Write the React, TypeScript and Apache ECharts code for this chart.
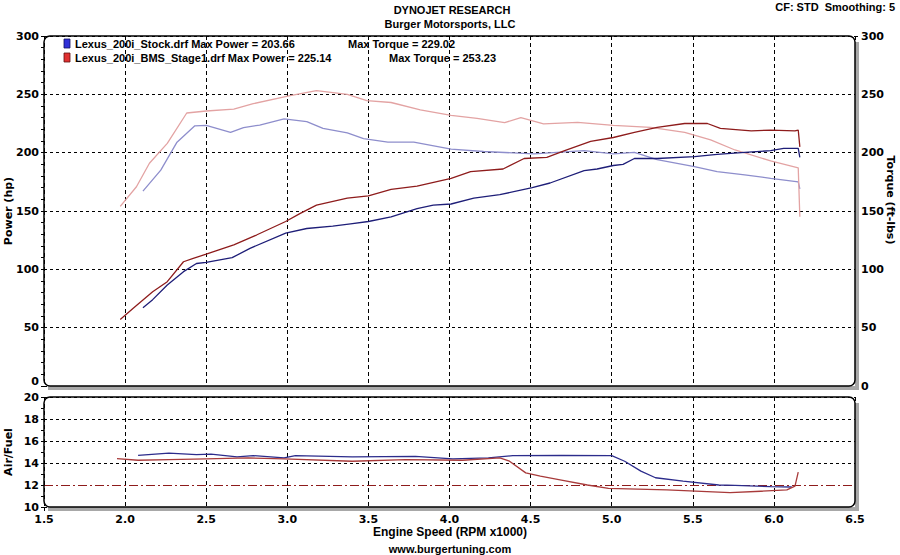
import React, { useEffect, useRef } from "react";
import * as echarts from "echarts";

// ---- Data ----
const stockPowerRpm = [2.11, 2.17, 2.26, 2.36, 2.44, 2.5, 2.66, 2.77, 2.99, 3.12, 3.28, 3.39, 3.5, 3.64, 3.8, 3.9, 4.01, 4.15, 4.31, 4.51, 4.62, 4.83, 4.91, 5.01, 5.07, 5.14, 5.28, 5.51, 5.65, 5.82, 5.98, 6.06, 6.15, 6.16];
const stockPowerHp = [67, 74, 86.6, 98, 105, 106, 110, 118, 131, 135, 137, 139, 141, 145, 152, 155, 156, 161, 164, 170, 174, 184.6, 186, 189, 190, 195, 195, 196.6, 198.6, 200.3, 201.7, 203.7, 203.7, 196];

const stagePowerRpm = [1.97, 2.05, 2.11, 2.17, 2.26, 2.36, 2.42, 2.5, 2.67, 2.81, 2.99, 3.08, 3.18, 3.37, 3.5, 3.64, 3.8, 4.01, 4.13, 4.33, 4.46, 4.6, 4.71, 4.87, 5.01, 5.14, 5.28, 5.45, 5.59, 5.67, 5.86, 5.98, 6.13, 6.15, 6.16];
const stagePowerHp = [57, 66.6, 73.7, 80.8, 89.4, 106.5, 109.4, 113, 121, 129.4, 141, 148, 155, 161, 163, 168.6, 171.4, 178, 183.7, 186, 195, 196, 201.7, 209.7, 213, 217.4, 221.7, 225, 225, 220.8, 218.6, 219.4, 218.6, 219.4, 205];

const stockTorqueRpm = [2.11, 2.22, 2.32, 2.43, 2.5, 2.65, 2.73, 2.83, 2.98, 3.12, 3.22, 3.37, 3.47, 3.62, 3.78, 4.01, 4.21, 4.52, 4.83, 5.01, 5.14, 5.28, 5.51, 5.65, 5.82, 5.98, 6.15, 6.16];
const stockTorqueLb = [167, 185, 209, 223, 223.4, 217.4, 221.4, 223.7, 229, 226.6, 220.8, 217, 212, 209, 209, 203, 201, 199, 201.7, 199, 200.3, 194, 188, 183.7, 181, 178, 175, 169];

const stageTorqueRpm = [1.97, 2.07, 2.15, 2.26, 2.38, 2.5, 2.67, 2.79, 3.01, 3.18, 3.37, 3.49, 3.64, 3.82, 4.01, 4.17, 4.34, 4.44, 4.58, 4.79, 5.01, 5.24, 5.45, 5.61, 5.76, 5.98, 6.15, 6.16];
const stageTorqueLb = [154, 170.8, 190.9, 208, 234, 235.7, 237.4, 242, 248.6, 253.2, 250, 244.6, 243, 236.6, 232, 229.4, 225.7, 230, 224.6, 226, 223.4, 221.7, 217.4, 210.9, 202.3, 192.9, 187, 145];

const stockAfrRpm = [2.08, 2.27, 2.44, 2.53, 2.69, 2.79, 2.98, 3.05, 3.4, 3.79, 4.02, 4.24, 4.39, 4.69, 5.0, 5.08, 5.18, 5.27, 5.44, 5.66, 5.76, 5.98, 6.11];
const stockAfr = [14.7, 14.9, 14.76, 14.8, 14.55, 14.67, 14.46, 14.67, 14.55, 14.6, 14.37, 14.46, 14.67, 14.7, 14.67, 14.16, 13.26, 12.66, 12.36, 12.0, 11.97, 11.85, 11.82];

const stageAfrRpm = [1.95, 2.08, 2.27, 2.5, 2.76, 2.98, 3.4, 3.73, 4.08, 4.31, 4.37, 4.47, 4.56, 4.69, 4.85, 4.98, 5.34, 5.73, 5.92, 6.08, 6.13, 6.15];
const stageAfr = [14.4, 14.25, 14.3, 14.37, 14.46, 14.37, 14.16, 14.3, 14.25, 14.46, 14.16, 13.1, 12.8, 12.45, 12.0, 11.7, 11.55, 11.3, 11.43, 11.55, 11.9, 13.17];

const afrTarget = 12;

const titleLines = ["DYNOJET RESEARCH", "Burger Motorsports, LLC"];
const cornerText = "CF: STD  Smoothing: 5";
const legendRows = [
  { file: "Lexus_200i_Stock.drf Max Power = 203.66", torque: "Max Torque = 229.02" },
  { file: "Lexus_200i_BMS_Stage1.drf Max Power = 225.14", torque: "Max Torque = 253.23" },
];

const zip = (a: number[], b: number[]) => a.map((x, i) => [x, b[i]]);

const TICK_FONT = "DejaVu Sans";
const TEXT_FONT = "Liberation Sans";

export default function App() {
  const ref = useRef<HTMLDivElement>(null);
  useEffect(() => {
    document.body.style.margin = "0";
    const chart = echarts.init(ref.current!, null, { renderer: "svg" });
    const tickLabel = { color: "#000", fontFamily: TICK_FONT, fontWeight: "bold" as const, fontSize: 11, lineHeight: 10 };
    const lineSeries = (name: string, data: number[][], color: string, xi: number, yi: number, extra: any = {}) => ({
      name,
      type: "line",
      xAxisIndex: xi,
      yAxisIndex: yi,
      data,
      symbol: "none",
      showSymbol: false,
      lineStyle: { color, width: 1.3 },
      itemStyle: { color },
      z: 5,
      ...extra,
    });
    const option: any = {
      animation: false,
      backgroundColor: "#fff",
      grid: [
        { left: 44, right: 45, top: 36, height: 350 },
        { left: 44, right: 45, top: 397, height: 110 },
      ],
      xAxis: [
        {
          gridIndex: 0, type: "value", min: 1.5, max: 6.5, interval: 0.5,
          axisLabel: { show: false }, axisLine: { show: false }, axisTick: { show: false },
          splitLine: { show: true, lineStyle: { color: "#000", type: [4, 3], width: 1 } },
        },
        {
          gridIndex: 1, type: "value", min: 1.5, max: 6.5, interval: 0.5,
          axisLabel: { ...tickLabel, margin: 7, formatter: (v: number) => v.toFixed(1) },
          axisLine: { show: false },
          axisTick: { show: true, length: 4, lineStyle: { color: "#000" } },
          minorTick: { show: true, splitNumber: 5, length: 4, lineStyle: { color: "#000" } },
          splitLine: { show: true, lineStyle: { color: "#000", type: [4, 3], width: 1 } },
        },
      ],
      yAxis: [
        {
          gridIndex: 0, type: "value", min: 0, max: 300, interval: 50, position: "left",
          axisLabel: { ...tickLabel, margin: 5, verticalAlignMinLabel: "bottom" },
          axisLine: { show: false },
          axisTick: { show: true, length: 3, lineStyle: { color: "#000" } },
          minorTick: { show: true, splitNumber: 5, length: 3, lineStyle: { color: "#000" } },
          splitLine: { show: true, lineStyle: { color: "#000", type: [3, 3], width: 1 } },
        },
        {
          gridIndex: 0, type: "value", min: 0, max: 300, interval: 50, position: "right",
          axisLabel: { ...tickLabel, margin: 6 },
          axisLine: { show: false },
          axisTick: { show: true, length: 3, lineStyle: { color: "#000" } },
          minorTick: { show: true, splitNumber: 5, length: 3, lineStyle: { color: "#000" } },
          splitLine: { show: false },
        },
        {
          gridIndex: 1, type: "value", min: 10, max: 20, interval: 2, position: "left",
          axisLabel: { ...tickLabel, margin: 5 },
          axisLine: { show: false },
          axisTick: { show: true, length: 3, lineStyle: { color: "#000" } },
          minorTick: { show: true, splitNumber: 2, length: 3, lineStyle: { color: "#000" } },
          splitLine: {
            show: true,
            lineStyle: { color: ["#000", "rgba(0,0,0,0)", "#000", "#000", "#000", "#000"], type: [3, 3], width: 1 },
          },
        },
      ],
      series: [
        lineSeries("Stock Torque", zip(stockTorqueRpm, stockTorqueLb), "#8e8ecc", 0, 1),
        lineSeries("Stage1 Torque", zip(stageTorqueRpm, stageTorqueLb), "#e3a3a3", 0, 1),
        lineSeries("Stock Power", zip(stockPowerRpm, stockPowerHp), "#1e1e78", 0, 0),
        lineSeries("Stage1 Power", zip(stagePowerRpm, stagePowerHp), "#8e1c1c", 0, 0),
        lineSeries("Stock AFR", zip(stockAfrRpm, stockAfr), "#2c2c8c", 1, 2),
        lineSeries("Stage1 AFR", zip(stageAfrRpm, stageAfr), "#a83a3a", 1, 2, {
          markLine: {
            silent: true,
            symbol: "none",
            label: { show: false },
            lineStyle: { color: "#8e1c1c", type: [9, 3, 2, 3], width: 1 },
            data: [{ yAxis: afrTarget }],
          },
        }),
      ],
      graphic: [
        // panel shadows
        { type: "rect", shape: { x: 855, y: 42, width: 4, height: 348 }, style: { fill: "#a8a8a8" }, z: 1 },
        { type: "rect", shape: { x: 48, y: 386, width: 811, height: 4 }, style: { fill: "#a8a8a8" }, z: 1 },
        { type: "rect", shape: { x: 855, y: 403, width: 4, height: 108 }, style: { fill: "#a8a8a8" }, z: 1 },
        { type: "rect", shape: { x: 48, y: 507, width: 811, height: 4 }, style: { fill: "#a8a8a8" }, z: 1 },
        // panel frames
        { type: "rect", shape: { x: 44, y: 36, width: 811, height: 350, r: 6 }, style: { fill: "none", stroke: "#000", lineWidth: 1.5 }, z: 20 },
        { type: "rect", shape: { x: 44, y: 397, width: 811, height: 110, r: 6 }, style: { fill: "none", stroke: "#000", lineWidth: 1.5 }, z: 20 },
        // titles
        { type: "text", x: 452, y: 10, style: { text: titleLines[0], fill: "#000", font: `bold 11px "${TEXT_FONT}"`, textAlign: "center", textVerticalAlign: "middle" }, z: 30 },
        { type: "text", x: 450, y: 24, style: { text: titleLines[1], fill: "#000", font: `bold 11px "${TEXT_FONT}"`, textAlign: "center", textVerticalAlign: "middle" }, z: 30 },
        { type: "text", x: 895, y: 7, style: { text: cornerText, fill: "#000", font: `bold 11px "${TEXT_FONT}"`, textAlign: "right", textVerticalAlign: "middle" }, z: 30 },
        // legend
        { type: "rect", shape: { x: 64, y: 39, width: 6, height: 9 }, style: { fill: "#3030d8", stroke: "#101060", lineWidth: 0.8 }, z: 30 },
        { type: "rect", shape: { x: 64, y: 53, width: 6, height: 9 }, style: { fill: "#e03030", stroke: "#601010", lineWidth: 0.8 }, z: 30 },
        { type: "text", x: 75, y: 44, style: { text: legendRows[0].file, fill: "#000", font: `bold 11px "${TEXT_FONT}"`, textVerticalAlign: "middle" }, z: 30 },
        { type: "text", x: 348, y: 44, style: { text: legendRows[0].torque, fill: "#000", font: `bold 11px "${TEXT_FONT}"`, textVerticalAlign: "middle" }, z: 30 },
        { type: "text", x: 75, y: 58, style: { text: legendRows[1].file, fill: "#000", font: `bold 11px "${TEXT_FONT}"`, textVerticalAlign: "middle" }, z: 30 },
        { type: "text", x: 389, y: 58, style: { text: legendRows[1].torque, fill: "#000", font: `bold 11px "${TEXT_FONT}"`, textVerticalAlign: "middle" }, z: 30 },
        // axis names
        { type: "text", x: 8, y: 211, rotation: Math.PI / 2, style: { text: "Power (hp)", fill: "#000", font: `bold 11px "${TICK_FONT}"`, textAlign: "center", textVerticalAlign: "middle" }, z: 30 },
        { type: "text", x: 890, y: 200, rotation: -Math.PI / 2, style: { text: "Torque (ft-lbs)", fill: "#000", font: `bold 11px "${TICK_FONT}"`, textAlign: "center", textVerticalAlign: "middle" }, z: 30 },
        { type: "text", x: 8, y: 452, rotation: Math.PI / 2, style: { text: "Air/Fuel", fill: "#000", font: `bold 11px "${TICK_FONT}"`, textAlign: "center", textVerticalAlign: "middle" }, z: 30 },
        { type: "text", x: 450, y: 532, style: { text: "Engine Speed (RPM x1000)", fill: "#000", font: `bold 12px "${TEXT_FONT}"`, textAlign: "center", textVerticalAlign: "middle", lineHeight: 12 }, z: 30 },
        { type: "text", x: 450, y: 549, style: { text: "www.burgertuning.com", fill: "#000", font: `bold 11px "${TEXT_FONT}"`, textAlign: "center", textVerticalAlign: "middle" }, z: 30 },
      ],
    };
    chart.setOption(option);
    return () => chart.dispose();
  }, []);
  return <div ref={ref} style={{ width: 900, height: 555 }} />;
}
